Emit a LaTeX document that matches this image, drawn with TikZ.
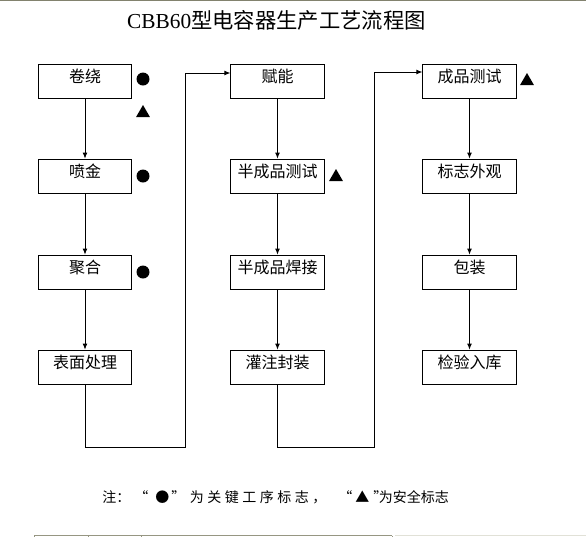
\documentclass[tikz,border=0pt]{standalone}
\usepackage{fontspec}
\setmainfont{Liberation Serif}
\newfontfamily\cjk{Noto Sans CJK SC}
\usetikzlibrary{arrows.meta,shapes.geometric}

\tikzset{
	procbox/.style={draw, line width=0.6pt, minimum width=70pt, minimum height=25.5pt,
		inner sep=0pt, text height=14pt, text depth=11.5pt, font=\cjk\fontsize{12}{14}\selectfont},
	keydot/.style={circle, fill=black, minimum size=9.75pt, inner sep=0pt},
	safetri/.style={regular polygon, regular polygon sides=3, fill=black, minimum size=12pt, inner sep=0pt},
	flow/.style={->, line width=0.6pt},
}

\begin{document}
\begin{tikzpicture}[x=0.75pt, y=-0.75pt, >={Latex[length=4.5pt,width=3.6pt]}]
	\useasboundingbox (0,0) rectangle (586,537);
% page edges
	\draw[line width=1.2pt, color={rgb,255:red,130;green,130;blue,110}] (0,0.6) -- (586,0.6);
	\draw[line width=0.8pt, color={rgb,255:red,150;green,150;blue,130}] (34,535.5) -- (392,535.5);
	\draw[line width=0.6pt, color={rgb,255:red,225;green,225;blue,215}] (395,535.5) -- (586,535.5);
	\draw[line width=0.6pt, color={rgb,255:red,150;green,150;blue,130}] (34,535.5) -- (34,537) (88,535.5) -- (88,537) (141,535.5) -- (141,537) (392,535.5) -- (392,537);
% title
	\node (title) at (276.5,20) {\fontsize{16}{19}\selectfont CBB60\cjk 型电容器生产工艺流程图};
% first column
	\node[procbox] (juanrao) at (85,81) {卷绕};
	\node[procbox] (penjin) at (85,176) {喷金};
	\node[procbox] (juhe) at (85,272) {聚合};
	\node[procbox] (biaomian) at (85,367) {表面处理};
% second column
	\node[procbox] (funeng) at (277.5,81) {赋能};
	\node[procbox] (bance) at (277.5,176) {半成品测试};
	\node[procbox] (banhan) at (277.5,272) {半成品焊接};
	\node[procbox] (guanzhu) at (277.5,367) {灌注封装};
% third column
	\node[procbox] (chengce) at (469.5,81) {成品测试};
	\node[procbox] (biaozhi) at (469.5,176) {标志外观};
	\node[procbox] (baozhuang) at (469.5,272) {包装};
	\node[procbox] (jianyan) at (469.5,367) {检验入库};
% marks
	\node[keydot] (dot1) at (143,79) {};
	\node[safetri] (tri1) at (143,113) {};
	\node[keydot] (dot2) at (143,176) {};
	\node[keydot] (dot3) at (143,272) {};
	\node[safetri] (tri2) at (336,177) {};
	\node[safetri] (tri3) at (527,81) {};
% arrows
	\draw[flow] (juanrao) -- (penjin);
	\draw[flow] (penjin) -- (juhe);
	\draw[flow] (juhe) -- (biaomian);
	\draw[flow] (funeng) -- (bance);
	\draw[flow] (bance) -- (banhan);
	\draw[flow] (banhan) -- (guanzhu);
	\draw[flow] (chengce) -- (biaozhi);
	\draw[flow] (biaozhi) -- (baozhuang);
	\draw[flow] (baozhuang) -- (jianyan);
	\coordinate (turn1) at (185,447);
	\coordinate (turn2) at (374,447);
	\draw[flow] (biaomian.south) |- (turn1) |- (funeng.west |- 0,73);
	\draw[flow] (guanzhu.south) |- (turn2) |- (chengce.west |- 0,72);
% note
	\node[anchor=west, inner sep=0pt, font=\cjk\fontsize{10.5}{12}\selectfont] (note) at (102,497)
		{注：\hspace{3pt}“\hspace{5.25pt}●\hspace{1.5pt}”\hspace{3.5pt}{\addfontfeature{LetterSpace=25}为关键工序标志，}\hspace{9pt}“\hspace{2.25pt}▲\hspace{3pt}”\hspace{-6.5pt}为安全标志};
\end{tikzpicture}
\end{document}
